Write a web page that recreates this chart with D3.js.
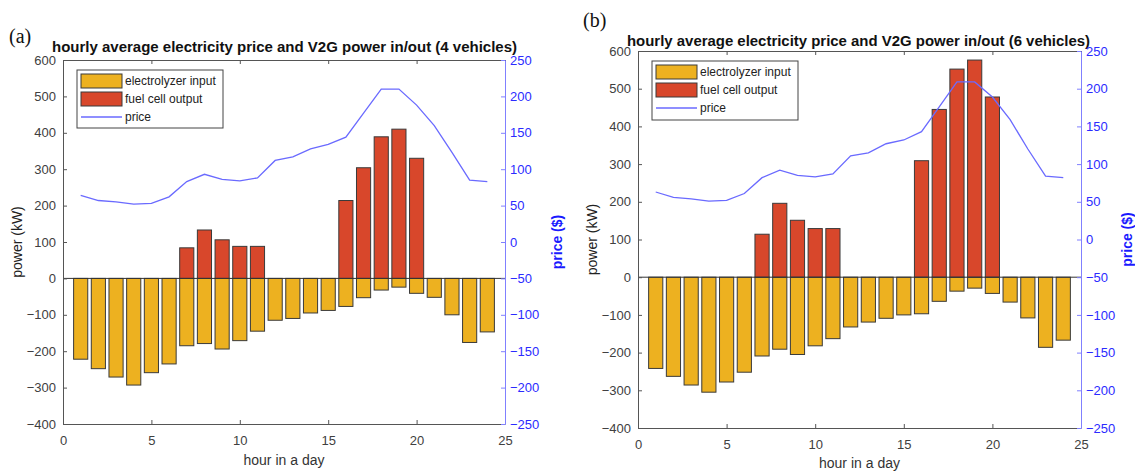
<!DOCTYPE html>
<html>
<head>
<meta charset="utf-8">
<script src="https://cdn.jsdelivr.net/npm/d3@7"></script>
<style>
  body { margin: 0; background: #fff; }
  svg { font-family: "Liberation Sans", Arial, sans-serif; }
</style>
</head>
<body>
<div id="chart"></div>
<script>
// hours of the day
var hours = [1, 2, 3, 4, 5, 6, 7, 8, 9, 10, 11, 12, 13, 14, 15, 16, 17, 18, 19, 20, 21, 22, 23, 24];

// (a) 4 vehicles
var electrolyzer4 = [-222, -248, -271, -293, -259, -235, -185, -179, -194, -171, -145, -115,
                     -110, -95, -88, -77, -53, -32, -24, -41, -52, -100, -176, -147];
var fuelCell4 = [0, 0, 0, 0, 0, 0, 84, 133, 106, 88, 88, 0,
                 0, 0, 0, 214, 304, 389, 410, 330, 0, 0, 0, 0];
var price4 = [64, 57, 55, 52, 53, 62, 83, 93, 86, 84, 88, 112,
              117, 128, 134, 144, 177, 210, 210, 188, 160, 123, 85, 83];

// (b) 6 vehicles
var electrolyzer6 = [-242, -263, -286, -305, -278, -252, -209, -191, -205, -182, -163, -132,
                     -119, -109, -100, -97, -64, -37, -29, -43, -66, -108, -186, -167];
var fuelCell6 = [0, 0, 0, 0, 0, 0, 114, 196, 151, 129, 129, 0,
                 0, 0, 0, 309, 445, 552, 576, 478, 0, 0, 0, 0];
var price6 = [63, 56, 54, 51, 52, 61, 82, 92, 85, 83, 87, 111,
              115, 127, 132, 143, 176, 209, 209, 189, 159, 120, 84, 82];

// tick labels
var hourTicks = [0, 5, 10, 15, 20, 25];
var powerTicks = [-400, -300, -200, -100, 0, 100, 200, 300, 400, 500, 600];
var priceTicks = [-250, -200, -150, -100, -50, 0, 50, 100, 150, 200, 250];

var legendLabels = ["electrolyzer input", "fuel cell output", "price"];

var colors = {
    electrolyzer: "#edb120",
    fuelCell: "#d8472b",
    edge: "#3a3a3a",
    price: "#6a6aff",
    priceAxis: "#8080ff",
    priceText: "#2b2bff",
    axis: "#555",
    text: "#404040"
};

var svg = d3.select("#chart")
    .append("svg")
    .attr("width", 1135)
    .attr("height", 472);

function drawPanel(p) {
    var x = d3.scaleLinear().domain([0, 25]).range([p.left, p.right]);
    var y = d3.scaleLinear().domain([-400, 600]).range([p.bottom, p.top]);
    var y2 = d3.scaleLinear().domain([-250, 250]).range([p.bottom, p.top]);
    var halfBar = 0.4;

    var g = svg.append("g");

    // panel tag and title
    g.append("text")
        .attr("x", p.tagX)
        .attr("y", p.tagY)
        .attr("font-family", "'Liberation Serif', 'Times New Roman', serif")
        .attr("font-size", 20)
        .attr("fill", "#111")
        .text(p.tag);

    g.append("text")
        .attr("x", p.titleX)
        .attr("y", p.titleY)
        .attr("text-anchor", "middle")
        .attr("font-size", 14)
        .attr("font-weight", "bold")
        .attr("fill", "#111")
        .attr("textLength", p.titleLen)
        .attr("lengthAdjust", "spacingAndGlyphs")
        .text(p.title);

    // electrolyzer bars (negative)
    g.append("g").selectAll("rect")
        .data(hours)
        .enter()
        .append("rect")
        .attr("x", (d, i) => x(d - halfBar))
        .attr("width", d => x(d + halfBar) - x(d - halfBar))
        .attr("y", (d, i) => y(Math.max(0, p.electrolyzer[i])))
        .attr("height", (d, i) => Math.abs(y(p.electrolyzer[i]) - y(0)))
        .attr("fill", colors.electrolyzer)
        .attr("stroke", colors.edge)
        .attr("stroke-width", 1);

    // fuel cell bars (positive), skip empty hours
    var fcData = hours.map((h, i) => ({ h: h, v: p.fuelCell[i] })).filter(d => d.v > 0);
    g.append("g").selectAll("rect")
        .data(fcData)
        .enter()
        .append("rect")
        .attr("x", d => x(d.h - halfBar))
        .attr("width", d => x(d.h + halfBar) - x(d.h - halfBar))
        .attr("y", d => y(d.v))
        .attr("height", d => y(0) - y(d.v))
        .attr("fill", colors.fuelCell)
        .attr("stroke", colors.edge)
        .attr("stroke-width", 1);

    // zero baseline
    g.append("line")
        .attr("x1", p.left).attr("x2", p.right)
        .attr("y1", y(0)).attr("y2", y(0))
        .attr("stroke", "#333")
        .attr("stroke-width", 1);

    // price line on right axis
    var line = d3.line()
        .x((d, i) => x(hours[i]))
        .y(d => y2(d));
    g.append("path")
        .datum(p.price)
        .attr("d", line)
        .attr("fill", "none")
        .attr("stroke", colors.price)
        .attr("stroke-width", 1.3);

    // axes
    var bottomAxis = d3.axisBottom(x).tickValues(hourTicks).tickSize(-4).tickSizeOuter(0).tickPadding(12);
    var topAxis = d3.axisTop(x).tickValues(hourTicks).tickSize(-4).tickSizeOuter(0).tickFormat("");
    var leftAxis = d3.axisLeft(y).tickValues(powerTicks).tickSize(-4).tickSizeOuter(0).tickPadding(7);
    var rightAxis = d3.axisRight(y2).tickValues(priceTicks).tickSize(-4).tickSizeOuter(0).tickPadding(5);

    var axes = [
        g.append("g").attr("transform", `translate(0, ${p.bottom})`).call(bottomAxis),
        g.append("g").attr("transform", `translate(0, ${p.top})`).call(topAxis),
        g.append("g").attr("transform", `translate(${p.left}, 0)`).call(leftAxis)
    ];
    axes.forEach(function(a) {
        a.selectAll("path, line").attr("stroke", colors.axis);
        a.selectAll("text").attr("fill", colors.text).attr("font-size", 13);
        a.attr("font-family", null);
    });

    var ra = g.append("g").attr("transform", `translate(${p.right}, 0)`).call(rightAxis);
    ra.selectAll("path, line").attr("stroke", colors.priceAxis);
    ra.selectAll("text").attr("fill", colors.priceText).attr("font-size", 13);
    ra.attr("font-family", null);

    // axis labels
    g.append("text")
        .attr("x", (p.left + p.right) / 2)
        .attr("y", p.xLabelY)
        .attr("text-anchor", "middle")
        .attr("font-size", 14)
        .attr("fill", "#333")
        .text("hour in a day");

    g.append("text")
        .attr("transform", `translate(${p.left - 46}, ${(p.top + p.bottom) / 2}) rotate(-90)`)
        .attr("text-anchor", "middle")
        .attr("dy", "0.35em")
        .attr("font-size", 14)
        .attr("fill", "#222")
        .text("power (kW)");

    g.append("text")
        .attr("transform", `translate(${p.right + p.priceLabelOffset}, ${(p.top + p.bottom) / 2}) rotate(-90)`)
        .attr("text-anchor", "middle")
        .attr("dy", "0.35em")
        .attr("font-size", 14)
        .attr("font-weight", "bold")
        .attr("fill", "#1a1aff")
        .text("price ($)");

    // legend
    var lg = g.append("g").attr("transform", `translate(${p.legendX}, ${p.legendY})`);
    lg.append("rect")
        .attr("width", 146).attr("height", p.legendH)
        .attr("fill", "#fff")
        .attr("stroke", "#444")
        .attr("stroke-width", 1);
    lg.append("rect")
        .attr("x", 4).attr("y", 4).attr("width", 41).attr("height", 14)
        .attr("fill", colors.electrolyzer).attr("stroke", colors.edge);
    lg.append("rect")
        .attr("x", 4).attr("y", 22).attr("width", 41).attr("height", 14)
        .attr("fill", colors.fuelCell).attr("stroke", colors.edge);
    lg.append("line")
        .attr("x1", 4).attr("x2", 45)
        .attr("y1", 47).attr("y2", 47)
        .attr("stroke", colors.price).attr("stroke-width", 1.3);
    lg.selectAll("text.leg")
        .data(legendLabels)
        .enter()
        .append("text")
        .attr("class", "leg")
        .attr("x", 48)
        .attr("y", (d, i) => 15 + i * 18)
        .attr("font-size", 12)
        .attr("fill", "#222")
        .text(d => d);
}

drawPanel({
    left: 63, right: 505, top: 60, bottom: 424,
    tag: "(a)", tagX: 9, tagY: 43,
    title: "hourly average electricity price and V2G power in/out (4 vehicles)",
    titleX: 284.5, titleY: 52, titleLen: 465,
    xLabelY: 465, priceLabelOffset: 52,
    legendX: 77, legendY: 70, legendH: 58,
    electrolyzer: electrolyzer4, fuelCell: fuelCell4, price: price4
});

drawPanel({
    left: 638, right: 1081, top: 51, bottom: 428,
    tag: "(b)", tagX: 583, tagY: 27,
    title: "hourly average electricity price and V2G power in/out (6 vehicles)",
    titleX: 858.5, titleY: 46, titleLen: 463,
    xLabelY: 468, priceLabelOffset: 46,
    legendX: 652, legendY: 61, legendH: 59,
    electrolyzer: electrolyzer6, fuelCell: fuelCell6, price: price6
});
</script>
</body>
</html>
